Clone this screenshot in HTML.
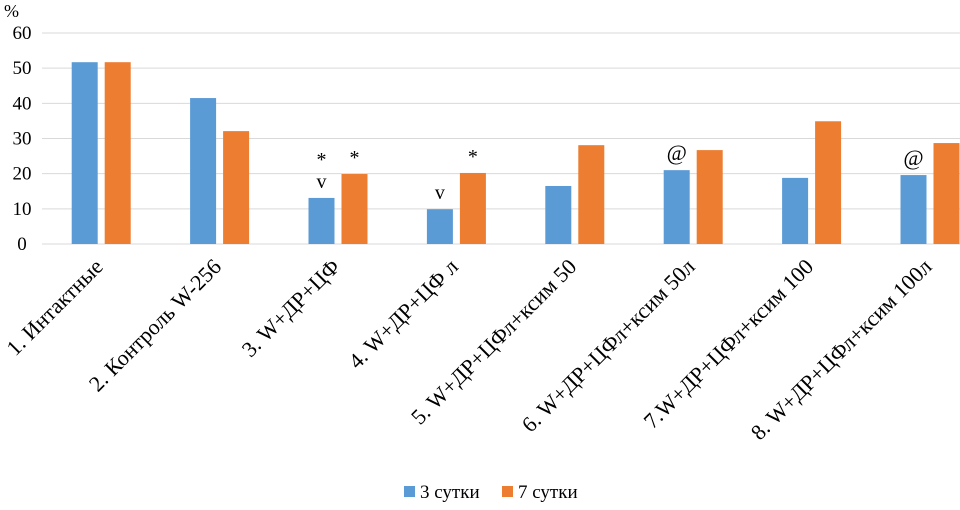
<!DOCTYPE html>
<html><head><meta charset="utf-8"><style>
body{margin:0;background:#fff;width:960px;height:505px;overflow:hidden}
svg, svg text{font-family:"Liberation Serif","Times New Roman","Noto Serif CJK SC",serif}
</style></head><body>
<svg id="c" width="960" height="505" font-family="Liberation Serif, Times New Roman, serif"></svg>
<script>
const categories=["1. Интактные","2. Контроль W-256","3. W+ДР+ЦФ","4. W+ДР+ЦФ л","5. W+ДР+ЦФл+ксим 50","6. W+ДР+ЦФл+ксим 50л","7.W+ДР+ЦФл+ксим 100","8. W+ДР+ЦФл+ксим 100л"];
const series3=[51.7,41.5,13.1,9.9,16.5,21.0,18.8,19.6];
const series7=[51.7,32.1,19.9,20.2,28.1,26.7,34.9,28.7];
const marks3=["","","*\nv","v","","@","","@"];
const marks7=["","","*","*","","","",""];
const yTicks=[0,10,20,30,40,50,60];
const NS="http://www.w3.org/2000/svg",svg=document.getElementById('c');
const y0=244,y60=33,x0=42,band=118.4,bw=26,gap=7;
const Y=v=>y0-(v/60)*(y0-y60);
const X=i=>x0+band*(i+0.5);
function el(t,a,p){const e=document.createElementNS(NS,t);for(const k in a)e.setAttribute(k,a[k]);(p||svg).appendChild(e);return e;}
let t=el('text',{x:4,y:17,'font-size':18,fill:'#000'});t.textContent='%';


yTicks.forEach(v=>{
 const l=el('line',{x1:x0,x2:960,y1:Y(v),y2:Y(v),stroke:'#d9d9d9','stroke-width':1});
 
 
 const tx=el('text',{x:22,y:Y(v)+6,'font-size':19,'text-anchor':'middle',fill:'#000'});tx.textContent=v;
 
 
});
categories.forEach((c,i)=>{
 const cx=X(i);
 const b1=el('rect',{x:cx-gap/2-bw,y:Y(series3[i]),width:bw,height:y0-Y(series3[i]),fill:'#5b9bd5'});
 
 
 const b2=el('rect',{x:cx+gap/2,y:Y(series7[i]),width:bw,height:y0-Y(series7[i]),fill:'#ed7d31'});
 
 
 const lines3=marks3[i]?marks3[i].split('\n').reverse():[];
 lines3.forEach((m,k)=>{
  const tm=el('text',{x:cx-gap/2-bw/2,y:Y(series3[i])-10-k*30+(m=='*'?8:0),'font-size':m=='@'?22:20,'text-anchor':'middle',fill:'#000'});tm.textContent=m;
  
  
 });
 if(marks7[i]){
  const tm=el('text',{x:cx+gap/2+bw/2,y:Y(series7[i])-10,'font-size':20,'text-anchor':'middle',fill:'#000'});tm.textContent=marks7[i];
  
  
 }
 const ax=cx+3,ay=268;
 const lb=el('text',{x:ax,y:ay,'font-size':22,'text-anchor':'end',fill:'#000',transform:`rotate(-45 ${ax} ${ay})`});lb.textContent=c;
 
 
});
const lg=el('g',{});


el('rect',{x:404,y:486,width:11,height:11,fill:'#5b9bd5'},lg);
let l1=el('text',{x:420,y:498,'font-size':19,fill:'#000'},lg);l1.textContent='3 сутки';
el('rect',{x:502,y:486,width:11,height:11,fill:'#ed7d31'},lg);
let l2=el('text',{x:518,y:498,'font-size':19,fill:'#000'},lg);l2.textContent='7 сутки';
</script>
</body></html>
